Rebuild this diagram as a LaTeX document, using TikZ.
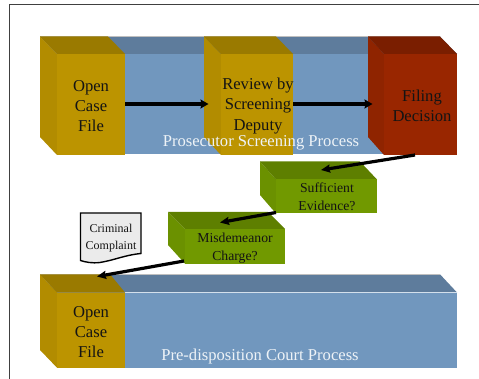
\documentclass[tikz,border=0pt]{standalone}
\usepackage{fontspec}
\setmainfont{Liberation Serif}
\usepackage{tikz}
\usetikzlibrary{arrows.meta}
\definecolor{yfront}{HTML}{BC9400}
\definecolor{yside}{HTML}{B28C00}
\definecolor{ytop}{HTML}{9A7A00}
\definecolor{bfront}{HTML}{7197BE}
\definecolor{btop}{HTML}{5E7C9C}
\definecolor{rfront}{HTML}{992600}
\definecolor{rside}{HTML}{8F2400}
\definecolor{rtop}{HTML}{7A1E00}
\definecolor{gfront}{HTML}{719900}
\definecolor{gside}{HTML}{6B9100}
\definecolor{gtop}{HTML}{5E7F00}
\tikzset{
  face/.style={inner sep=0pt, outer sep=0pt},
  label text/.style={inner sep=0pt, align=center, text=black!92},
  bigtext/.style={label text, font=\fontsize{16.6}{20.2}\selectfont},
  midtext/.style={label text, font=\fontsize{13.7}{17.5}\selectfont},
  whitetext/.style={inner sep=0pt, text=white!88!bfront, font=\fontsize{16.6}{18}\selectfont},
  flow/.style={line width=3.8pt, -{Stealth[length=8pt,width=9pt,inset=1pt]}},
  flowthin/.style={line width=3.2pt, -{Stealth[length=9pt,width=8pt,inset=1pt]}},
}
\begin{document}
\begin{tikzpicture}[x=1pt,y=-1pt]
\useasboundingbox (0,0) rectangle (479,379);
%%% The page frame
\draw[black!75, line width=1pt] (9.3,379) -- (9.3,4.3) -- (479,4.3);
%%%%%% The upper process block
\fill[bfront] (57,54) rectangle (457,154);
\fill[btop] (40,36.5) -- (440,36.5) -- (457,54) -- (57,54) -- cycle;
\draw[black!25, line width=0.5pt] (40,36.5) -- (440,36.5);
%%%%%% The first box of the upper block
\fill[yside] (40,36.5) -- (57,54) -- (57,155) -- (40,137) -- cycle;
\fill[ytop] (40,36.5) -- (108,36.5) -- (125,54) -- (57,54) -- cycle;
\node[face, fill=yfront, minimum width=68pt, minimum height=101pt] (open1) at (91,104.5) {};
\node[bigtext] (opentext1) at (91,106) {Open\\Case\\File};
%%%%%% The second box of the upper block
\fill[yside] (204,36.5) -- (221,54) -- (221,155) -- (204,137) -- cycle;
\fill[ytop] (204,36.5) -- (276,36.5) -- (293,54) -- (221,54) -- cycle;
\node[face, fill=yfront, minimum width=72pt, minimum height=101pt] (review) at (257,104.5) {};
\node[bigtext] (reviewtext) at (258,106) {Review by\\Screening\\Deputy};
%%%%%% The third box of the upper block
\fill[rside] (368,36.5) -- (384,54) -- (384,155) -- (368,137) -- cycle;
\fill[rtop] (368,36.5) -- (440,36.5) -- (457,54) -- (384,54) -- cycle;
\node[face, fill=rfront, minimum width=73pt, minimum height=101pt] (filing) at (420.5,104.5) {};
\node[bigtext] (filingtext) at (422,105.5) {Filing\\Decision};
%%%%%% The two question boxes
\fill[gside] (260,161.5) -- (276,179.5) -- (276,213.5) -- (260,195) -- cycle;
\fill[gtop] (260,161.5) -- (360,161.5) -- (377,179.5) -- (276,179.5) -- cycle;
\node[face, fill=gfront, minimum width=101pt, minimum height=34pt] (evidence) at (326.5,196.5) {};
\node[midtext] (evidencetext) at (327,197) {Sufficient\\Evidence?};
\fill[gside] (168,212) -- (185,229) -- (185,263.7) -- (168,245) -- cycle;
\fill[gtop] (168,212) -- (268,212) -- (285,229) -- (185,229) -- cycle;
\node[face, fill=gfront, minimum width=100pt, minimum height=34.7pt] (charge) at (235,246.3) {};
\node[midtext] (chargetext) at (235,248) {Misdemeanor\\Charge?};
%%%%%% The document shape
\draw[line width=1.4pt, fill=black!8] (80.5,213) -- (141,213) -- (141,253.5) .. controls (125,255) and (115,260) .. (100,262.5) .. controls (92,263.5) and (85,262) .. (80.5,260.5) -- cycle;
\node[label text, font=\fontsize{12}{17}\selectfont] (complaint) at (111,238) {Criminal\\Complaint};
%%%%%% The lower process block
\fill[bfront] (57,292.5) rectangle (457,367.7);
\fill[btop] (40,274.3) -- (440,274.3) -- (457,292.5) -- (57,292.5) -- cycle;
\draw[black!25, line width=0.5pt] (40,274.3) -- (440,274.3);
\draw[white!70!bfront, line width=0.5pt] (125,292.5) -- (457,292.5);
\fill[yside] (40,274.3) -- (57,292.5) -- (57,367.7) -- (40,350) -- cycle;
\fill[ytop] (40,274.3) -- (110,274.3) -- (125,292.5) -- (57,292.5) -- cycle;
\node[face, fill=yfront, minimum width=68pt, minimum height=75.2pt] (open2) at (91,330.1) {};
\node[bigtext] (opentext2) at (91,332) {Open\\Case\\File};
%%%%%% The block captions
\node[whitetext] (upper) at (261,143) {Prosecutor Screening Process};
\node[whitetext] (lower) at (260,357) {Pre-disposition Court Process};
%%%% The free ends of the arrows
\coordinate (tipreview) at (208.5,104);
\coordinate (tipfiling) at (372.5,104);
\coordinate (startfiling) at (415,155);
\coordinate (tipevidence) at (321,170);
\coordinate (startevidence) at (276,212.5);
\coordinate (tipcharge) at (220,222.5);
\coordinate (startcharge) at (184,261);
\coordinate (tipopen) at (97,276.5);
%%%% The arrows
\draw[flow] (open1.east |- tipreview) -- (tipreview);
\draw[flow] (review.east |- tipfiling) -- (tipfiling);
\draw[flowthin] (startfiling) -- (tipevidence);
\draw[flowthin] (startevidence) -- (tipcharge);
\draw[flowthin] (startcharge) -- (tipopen);
\end{tikzpicture}
\end{document}
